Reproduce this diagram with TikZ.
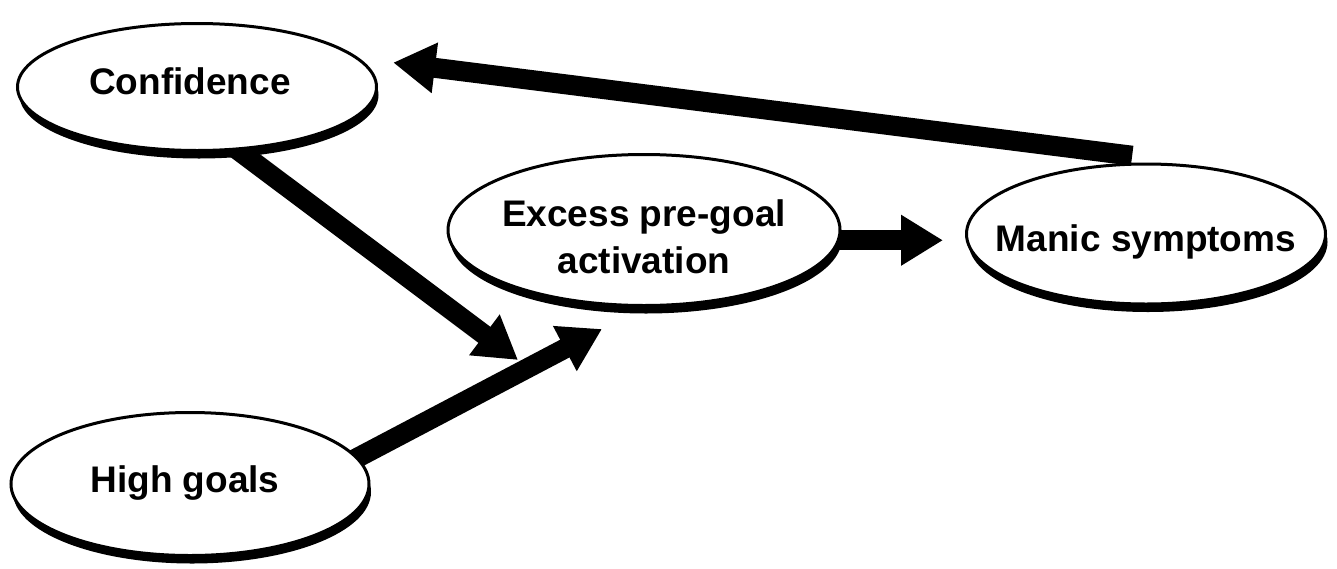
\documentclass[tikz,border=0pt]{standalone}
\usepackage{fontspec}
\setmainfont{Liberation Sans}
\usetikzlibrary{arrows.meta,shadows,backgrounds,shapes.geometric}
\newcommand\lifted[2]{\raisebox{#1}[0pt][0pt]{#2}}
\begin{document}
\begin{tikzpicture}[x=1pt,y=-1pt,
  bubble/.style={ellipse, draw=black, line width=3pt, fill=white, inner sep=-200pt,
    font=\fontsize{37}{47}\selectfont\bfseries,
    drop shadow={shadow xshift=2pt, shadow yshift=-8pt, fill=black, opacity=1}},
  fat/.style={line width=20pt, -{Triangle[width=48pt,length=42pt]}}]
\useasboundingbox (0,0) rectangle (1337,568);
\node[bubble, minimum width=359pt, minimum height=127pt] (conf) at (197,87) {\kern-14pt\lifted{-7.8pt}{Confidence}};
\node[bubble, minimum width=392pt, minimum height=151pt] (excess) at (644,230) {\lifted{-43.5pt}{\begin{tabular}[b]{@{}c@{}}Excess pre-goal\\activation\end{tabular}}};
\node[bubble, minimum width=359pt, minimum height=140pt] (manic) at (1146,234) {\lifted{-17.3pt}{Manic symptoms}};
\node[bubble, minimum width=358pt, minimum height=143pt] (hg) at (190,484) {\kern-10pt\lifted{-8pt}{High goals}};
\coordinate (tipA) at (518,360);
\coordinate (tipB) at (602,329);
\begin{scope}[on background layer]
\fill[white] (0,0) rectangle (1337,568);
\draw[fat, shorten <=-15pt] (conf.-57) -- (tipA);
\draw[fat, shorten <=-15pt] (hg.9) -- (tipB);
\draw[fat, shorten <=-15pt, shorten >=22pt] (excess.-3) -- (excess.-3 -| manic.west);
\draw[fat, shorten >=34pt] ([yshift=7pt]manic.101) -- (conf.10);
\end{scope}
\end{tikzpicture}
\end{document}
